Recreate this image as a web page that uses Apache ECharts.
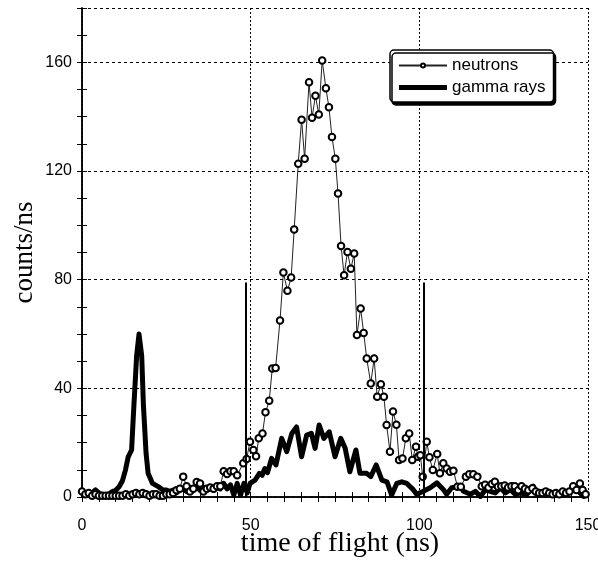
<!DOCTYPE html>
<html><head><meta charset="utf-8">
<script src="https://cdn.jsdelivr.net/npm/echarts@6/dist/echarts.min.js"></script>
<style>html,body{margin:0;padding:0;background:#fff}#c{width:598px;height:564px}</style>
</head><body><div id="c"></div>
<script>
// ---- data (time of flight in ns, counts/ns) ----
const neutronX = [
  0,1,2,3,4,5,6,7,8,9,
  10,11,12,13,14,15,16,17,18,19,
  20,21,22,23,24,25,26,27,28,29,
  30,31,32,33,34,35,36,37,38,39,
  40,41,42,43,44,45,46,47.8,48.8,49.8,
  50.8,51.6,52.4,53.5,54.4,55.5,56.4,57.4,58.7,59.7,
  60.9,62.0,62.9,64.1,65.1,66.0,67.3,68.2,69.2,70.2,
  71.2,72.3,73.2,74.1,75.1,75.9,76.8,77.7,78.7,79.7,
  80.7,81.5,82.6,83.5,84.4,85.6,86.6,87.5,88.6,89.5,
  90.3,91.3,92.2,93.2,94.0,95.0,96.0,97.0,97.9,99.0,
  99.6,100.3,101.0,102.2,103.0,104.0,105.3,106.1,107.1,108.1,
  109.1,110.1,111.3,112.3,113.8,114.8,116.0,117.2,118.5,119.5,
  120.5,121.5,122.4,123.3,124.3,125.3,126.3,127.3,128.3,129.3,
  130.3,131.3,132.3,133.5,134.5,135.5,136.5,137.5,138.5,139.5,
  140.5,141.5,142.5,143.5,144.5,145.6,146.6,147.6,148.4,149.3
];
const neutronY = [
  2,1,1.5,0.5,1,0.5,0.5,0.5,0.5,0.5,
  0.5,0.5,0.5,1,0.5,1,1.5,1,1.5,1,
  0.5,1,1,0.5,0.5,1,1,1.5,2.5,3,
  7.5,4,2,3,5.5,5,2,3,3.5,3,
  4,4,9.5,8.5,9.5,9.5,8,12.4,14,20.3,
  17.3,15,21.6,23.4,31.2,35.4,47.3,47.5,65,82.6,
  75.9,80.8,98.5,122.7,138.9,124.5,152.7,139.6,147.7,140.8,
  160.7,150.5,143.5,132.5,124.5,111.7,92.4,81.6,90.2,84,
  89.6,59.6,69.4,60.4,51,41.8,51,36.9,41.5,36.9,
  26.5,16.7,31.5,26.6,13.6,14.2,21.6,23.4,13.6,18.5,
  14.8,15.4,7.5,20.3,14.6,9.9,15.8,8.7,12.4,10.5,
  9.3,9.7,3.8,3.8,7.5,8.4,8.4,7.5,4,4.5,
  3.5,4.8,5.6,3.8,4,4.2,3.5,4,4,2.5,
  4,3,2.5,3.2,2,1.5,1.5,2,1.5,1,
  1.5,1,2,1.5,2,4,2.6,5,2.6,1
];
const gammaX = [
  0,1,2,3,4,5,6,7,8,9,
  10,11,12,12.9,13.7,14.7,15.4,16.2,16.9,17.7,
  18.2,19.0,19.6,20.9,22.6,24,25,26,27,28,
  29,30,31,32,33,34,35,36,37,38,
  39,40,41,42,43,44,45,46,47,48,
  49,49.8,51.3,52.6,53.4,54.2,55.0,56.2,57.5,59.2,
  60.7,62.2,63.6,65.1,66.6,68.0,69.1,70.3,71.7,73.3,
  75.0,76.7,78.0,79.4,81.2,82.4,84.4,85.6,87.2,88.9,
  90.4,91.8,93.3,94.8,96.3,98.2,99.2,101.2,103.2,105.2,
  107.1,108.1,109.6,112.1,113.1,115.1,116.6,118.1,119.6,121.0,
  122.5,124.0,125.5,127.0,128.4,129.9,131.9,133.8,134.8,136.8,
  138.8,140.8,142.8,144.7,146.7,148.7,150
];
const gammaY = [
  2,1.5,1,1.5,2.6,1.5,0.8,0.7,1.2,2,
  2.5,3.8,6,10,14.8,17.3,34,52,60,52,
  34,16,8.7,5,3.8,2.6,2.6,2,2.6,1.5,
  2.6,3,2,3.5,2.5,3.8,2.5,3.5,2.6,3.8,
  2.5,3.5,3,5,3,4.5,0.7,5,0.7,5,
  1.5,5,6.2,8.7,8,10.5,9,14.2,11.8,21.6,
  16.7,23.4,25.8,14.8,22.8,23.4,17.9,26.5,21.6,24,
  14.8,21.6,18,9.3,17.3,8.7,8.7,7.5,11.8,6.2,
  5.6,0.7,5,5.6,5,2.7,1,2.1,3.4,5.2,
  2.8,1,3.4,4,2.1,1,2.1,0.2,2.7,2.1,
  1.5,3.4,1.5,2.7,1,1.5,1,4,1,2.1,
  1,1,1.5,2.1,2.7,0.2,1
];
const gateX = [48.6, 101.4];   // time-window markers
const gateTop = 79;
const xRange = [0, 150], xMajor = 50, xMinor = 5;
const yRange = [0, 180], yMajor = 40, yMinor = 10;
const seriesNames = ['neutrons', 'gamma rays'];
const xTitle = 'time of flight (ns)';
const yTitle = 'counts/ns';

const zip = (a, b) => a.slice(0, Math.min(a.length, b.length)).map((v, i) => [v, b[i]]);

const sans = 'Liberation Sans';
const serif = 'Liberation Serif';
const tickAxis = (pos, isX, withLine) => ({
  type: 'value', position: pos, min: isX ? xRange[0] : yRange[0], max: isX ? xRange[1] : yRange[1],
  interval: isX ? xMinor : yMinor,
  axisLine: { show: withLine, lineStyle: { color: '#000', width: 1.5 } },
  axisTick: { show: true, inside: true, length: 5, lineStyle: { color: '#000', width: 1 } },
  axisLabel: { show: false }, splitLine: { show: false }
});

const chart = echarts.init(document.getElementById('c'), null, { renderer: 'canvas' });
chart.setOption({
  animation: false,
  backgroundColor: '#fff',
  grid: { left: 82, right: 10, top: 8, bottom: 67, containLabel: false, outerBoundsMode: 'none' },
  legend: {
    orient: 'vertical', left: 390, top: 50,
    padding: [7, 8, 6, 8], itemGap: 5, itemWidth: 48, itemHeight: 5,
    backgroundColor: '#fff', borderColor: '#000', borderWidth: 1.5, borderRadius: 4,
    shadowColor: '#000', shadowOffsetX: 2, shadowOffsetY: 3, shadowBlur: 0,
    textStyle: { fontFamily: sans, fontSize: 17, color: '#000' },
    data: [{ name: seriesNames[0] }, { name: seriesNames[1], icon: 'rect' }]
  },
  xAxis: [
    {
      type: 'value', position: 'bottom', min: xRange[0], max: xRange[1], interval: xMajor,
      name: xTitle, nameLocation: 'middle', nameGap: 33, nameMoveOverlap: false,
      nameTextStyle: { fontFamily: serif, fontSize: 28, color: '#000', padding: [0, 0, 0, 10] },
      axisLine: { show: true, lineStyle: { color: '#000', width: 1.5 } },
      axisTick: { show: false },
      axisLabel: { color: '#000', fontFamily: sans, fontSize: 16, margin: 21 },
      splitLine: { show: true, lineStyle: { color: '#000', width: 1, type: [2, 2] } }
    },
    tickAxis('bottom', true, false),
    tickAxis('top', true, true)
  ],
  yAxis: [
    {
      type: 'value', position: 'left', min: yRange[0], max: yRange[1], interval: yMajor,
      name: yTitle, nameLocation: 'middle', nameGap: 44, nameMoveOverlap: false,
      nameTextStyle: { fontFamily: serif, fontSize: 27, color: '#000' },
      axisLine: { show: true, lineStyle: { color: '#000', width: 1.5 } },
      axisTick: { show: false },
      axisLabel: { color: '#000', fontFamily: sans, fontSize: 16, margin: 10, showMaxLabel: false },
      splitLine: { show: true, lineStyle: { color: '#000', width: 1, type: [3, 3] } }
    },
    tickAxis('left', false, false),
    tickAxis('right', false, true)
  ],
  series: [
    {
      name: seriesNames[1], type: 'line', xAxisIndex: 0, yAxisIndex: 0,
      data: zip(gammaX, gammaY), showSymbol: false, symbol: 'none', z: 2,
      lineStyle: { color: '#000', width: 5, join: 'round' }, itemStyle: { color: '#000' },
      markLine: {
        silent: true, symbol: ['none', 'none'], label: { show: false },
        lineStyle: { color: '#000', width: 2, type: 'solid' },
        data: gateX.map(g => [{ coord: [g, 0] }, { coord: [g, gateTop] }])
      }
    },
    {
      name: seriesNames[0], type: 'line', xAxisIndex: 0, yAxisIndex: 0,
      data: zip(neutronX, neutronY), symbol: 'emptyCircle', symbolSize: 6.5, showAllSymbol: true, z: 3,
      lineStyle: { color: '#222', width: 1 }, itemStyle: { color: '#000', borderWidth: 1.2 }
    }
  ]
});
</script>
</body></html>
